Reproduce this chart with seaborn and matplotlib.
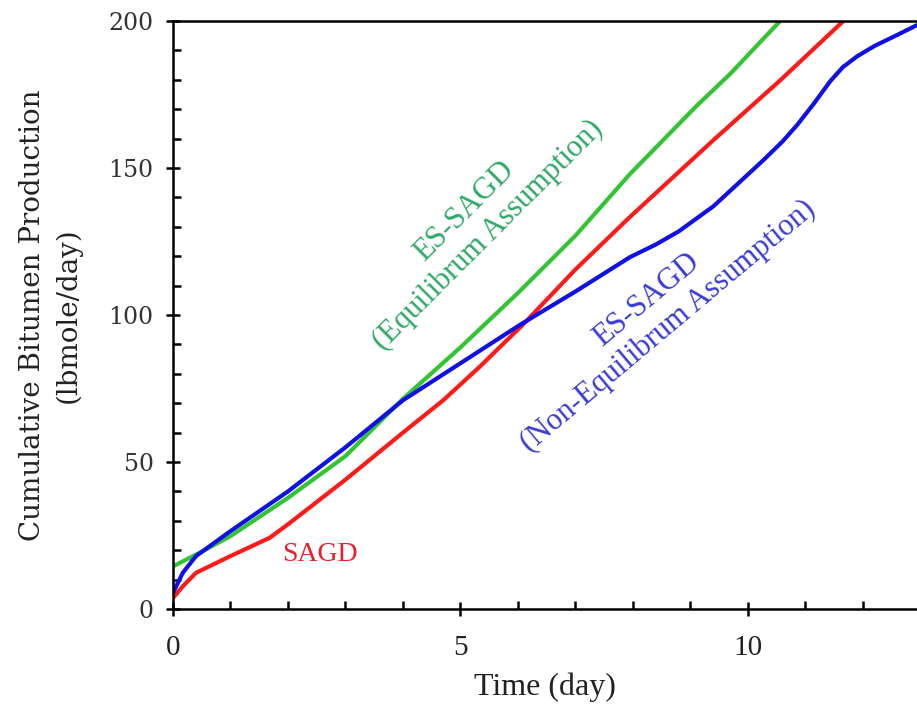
import matplotlib
matplotlib.use("Agg")
import matplotlib.pyplot as plt
import seaborn as sns
import numpy as np
import pandas as pd
from matplotlib.ticker import MultipleLocator

# ---- data ----
eq_time = [0, 0.5, 1, 2, 3, 4, 5, 6, 7, 7.95, 8.7, 9.1, 9.69, 10.56]
eq_prod = [14.5, 19.5, 24.8, 37.8, 52, 71.5, 89, 107.5, 127, 148, 163, 171, 182, 200]

sagd_time = [0, 0.17, 0.4, 1, 1.68, 2, 3, 4, 4.7, 5.34, 6.1, 7, 7.95, 9.4, 10.56, 11.66]
sagd_prod = [3.75, 7.7, 12.3, 18, 24.2, 28.8, 44, 60, 71, 82.5, 97, 115.5, 133.4, 159.5, 179.8, 200]

neq_time = [0, 0.17, 0.4, 1, 2, 3, 4, 5, 6.03, 7, 7.95, 8.4, 8.8, 9.4, 10.27, 10.6,
            10.85, 11.15, 11.43, 11.65, 11.9, 12.2, 12.6, 12.94]
neq_prod = [5.5, 12.3, 18, 26.5, 40, 55, 71, 83.6, 96.6, 108, 119.7, 124, 128.5, 137,
            152.7, 159, 164.5, 172, 179.5, 184.3, 188, 191.5, 195.3, 198.6]

series_names = ["ES-SAGD (Equilibrum)", "SAGD", "ES-SAGD (Non-Equilibrum)"]
line_colors = ["#33c433", "#ff1a1a", "#1010e6"]

x_label = "Time (day)"
y_label = "Cumulative Bitumen Production\n(lbmole/day)"
x_ticks = [0, 5, 10]
y_ticks = [0, 50, 100, 150, 200]

# ---- build long table ----
frames = []
for name, t, p in zip(series_names, [eq_time, sagd_time, neq_time],
                      [eq_prod, sagd_prod, neq_prod]):
    frames.append(pd.DataFrame({"time": t, "prod": p, "series": name}))
df = pd.concat(frames, ignore_index=True)

sns.set_theme(style="white")
plt.rcParams["font.family"] = ["Liberation Serif", "DejaVu Serif"]

fig = plt.figure(figsize=(9.17, 7.21), dpi=100)
ax = fig.add_axes([173 / 917, 1 - 609 / 721, 1 - 173 / 917, (609 - 21) / 721])

sns.lineplot(data=df, x="time", y="prod", hue="series", hue_order=series_names,
             palette=line_colors, linewidth=3.0, sort=False, estimator=None,
             legend=False, ax=ax)
for ln in ax.lines:
    ln.set_solid_joinstyle("round")
    ln.set_solid_capstyle("round")

ax.set_xlim(0, 12.94)
ax.set_ylim(0, 200)
ax.set_xticks(x_ticks)
ax.set_yticks(y_ticks)
ax.xaxis.set_minor_locator(MultipleLocator(1))
ax.yaxis.set_minor_locator(MultipleLocator(10))

for side in ["left", "bottom", "top"]:
    ax.spines[side].set_color("black")
    ax.spines[side].set_linewidth(1.8)
ax.spines["right"].set_visible(False)

ax.tick_params(which="major", direction="inout", length=10, width=1.8,
               color="black", bottom=True, left=True, top=False, right=False)
ax.tick_params(which="minor", direction="in", length=6, width=1.8,
               color="black", bottom=True, left=True, top=False, right=False)
ax.tick_params(axis="x", which="major", pad=14, labelsize=21, labelcolor="#222222")
ax.tick_params(axis="y", which="major", pad=9, labelsize=17, labelcolor="#333333")
for lab in ax.get_yticklabels():
    lab.set_fontfamily("DejaVu Serif")

ax.set_xlabel(x_label, fontsize=23, color="#222222", labelpad=8)
ax.set_ylabel(y_label, fontsize=20, color="#222222", labelpad=19,
              fontfamily="DejaVu Serif", linespacing=1.4)

ax.text(5.27, 131.3, "ES-SAGD\n(Equilibrum Assumption)", color="#2fa866",
        fontsize=22, rotation=45, ha="center", va="center",
        rotation_mode="anchor", linespacing=1.2)
ax.text(8.42, 100.7, "ES-SAGD\n(Non-Equilibrum Assumption)", color="#3a3ad8",
        fontsize=22, rotation=40, ha="center", va="center",
        rotation_mode="anchor", linespacing=1.2)
ax.text(2.56, 18.4, "SAGD", color="#e8202e", fontsize=20, ha="center", va="center")

fig.savefig("out.png", dpi=100)
